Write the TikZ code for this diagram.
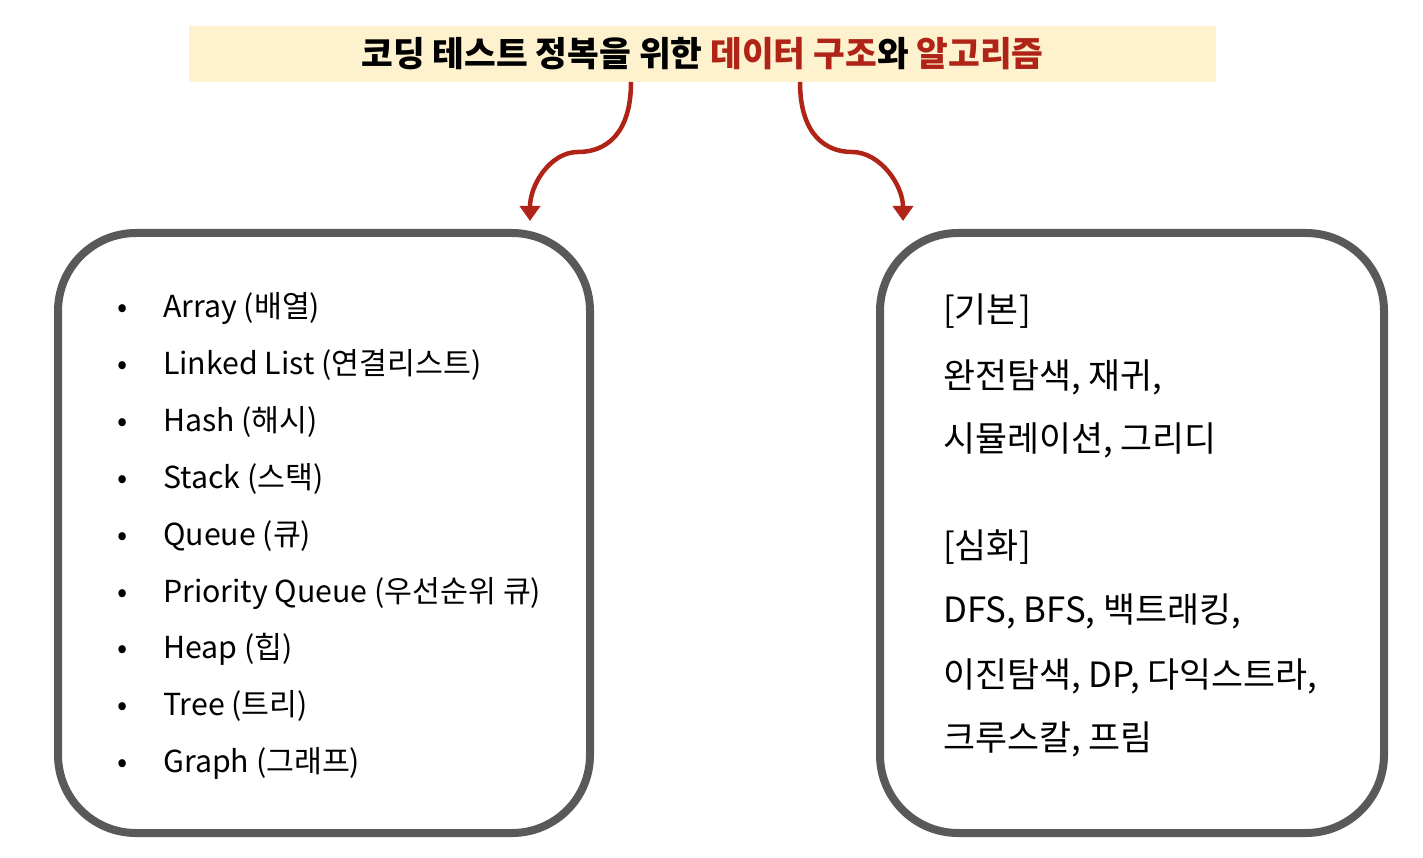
\documentclass[tikz,border=0pt]{standalone}
\usepackage{fontspec}
\setmainfont{Noto Sans CJK KR}
\newfontfamily\titlefont{Noto Sans CJK KR Black}
\usetikzlibrary{arrows.meta}
\definecolor{band}{HTML}{FDF1CE}
\definecolor{accent}{HTML}{B02418}
\definecolor{boxline}{HTML}{595959}
\tikzset{
  x=1pt,y=-1pt,
  panel/.style={draw=boxline,line width=8pt,rounded corners=78pt,inner sep=0pt},
  flow/.style={draw=accent,line width=4.5pt,-{Triangle[width=20pt,length=15pt]}},
  item/.style={anchor=base west,inner sep=0pt,font=\fontsize{30.3}{36}\selectfont},
  bul/.style={anchor=base,inner sep=0pt,font=\fontsize{30}{36}\selectfont},
  algo/.style={anchor=base west,inner sep=0pt,font=\fontsize{34.8}{40}\selectfont},
}
\begin{document}
\begin{tikzpicture}
\useasboundingbox (0,0) rectangle (1423,858);
\node[fill=band,minimum width=1027pt,minimum height=56pt,inner sep=0pt,
      font=\titlefont\fontsize{34.5}{40}\selectfont] (title) at (702.5,54)
  {코딩 테스트 정복을 위한 \textcolor{accent}{데이터 구조}와 \textcolor{accent}{알고리즘}};
\node[panel,minimum width=532pt,minimum height=600pt] (left) at (324,533) {};
\node[panel,minimum width=504pt,minimum height=600pt] (right) at (1132,533) {};
\coordinate (ls) at (631,82);
\coordinate (rs) at (800,82);
\coordinate (le) at (530,221);
\coordinate (re) at (903,221);
\draw[flow] (ls) .. controls (631,135) and (605,152) .. (578,152)
  .. controls (550,152) and (530,185) .. (le);
\draw[flow] (rs) .. controls (800,135) and (826,152) .. (852,152)
  .. controls (880,152) and (903,185) .. (re);
\foreach \t [count=\i] in {Array (배열),Linked List (연결리스트),Hash (해시),Stack (스택),Queue (큐),Priority Queue (우선순위 큐),Heap (힙),Tree (트리),Graph (그래프)}{
  \node[bul] (b\i) at (123,{318+56.8*(\i-1)}) {•};
  \node[item] (l\i) at (163,{318+56.8*(\i-1)}) {\t};
}
\node[algo] (r1) at (943,323) {[기본]};
\node[algo] (r2) at (943,388) {완전탐색, 재귀,};
\node[algo] (r3) at (943,451) {시뮬레이션, 그리디};
\node[algo] (r4) at (943,558) {[심화]};
\node[algo] (r5) at (943,622) {DFS, BFS, 백트래킹,};
\node[algo] (r6) at (943,687) {이진탐색, DP, 다익스트라,};
\node[algo] (r7) at (943,750) {크루스칼, 프림};
\end{tikzpicture}
\end{document}
